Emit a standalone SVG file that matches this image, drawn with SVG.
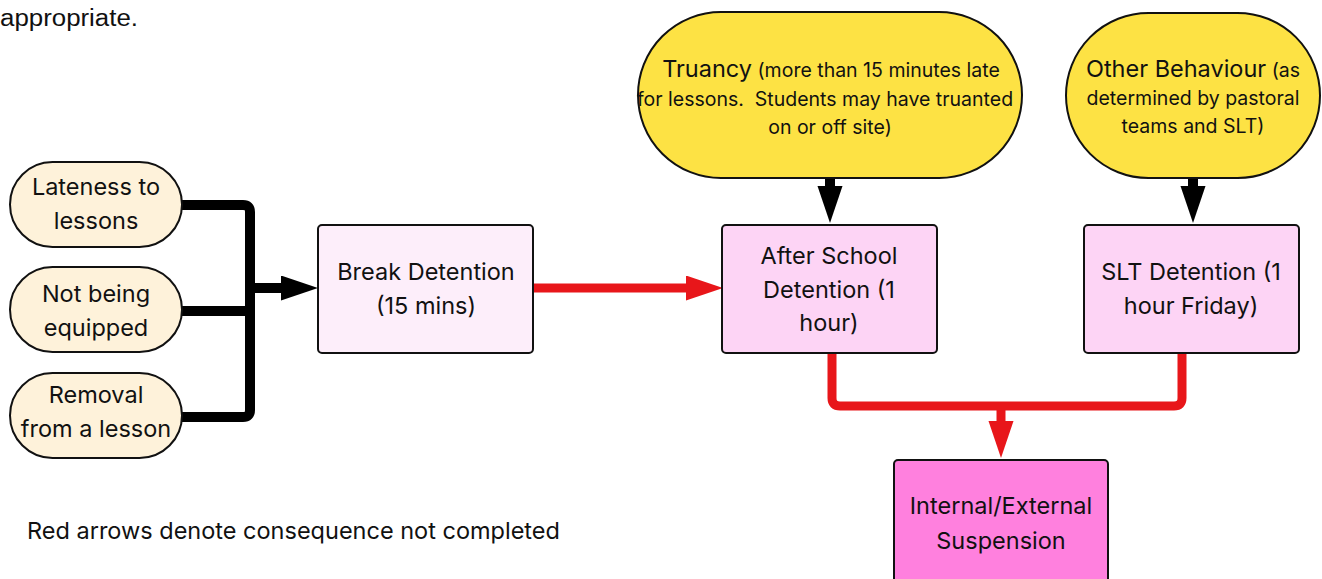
<svg xmlns="http://www.w3.org/2000/svg" width="1322" height="579" viewBox="0 0 1322 579">
<style>
text{font-family:Inter,"Noto Sans",sans-serif;fill:#111;text-anchor:middle}
.t{font-size:23.5px}
.s{font-size:19.5px}
.b{font-size:23.5px}
.stad{fill:#fef2da;stroke:#111;stroke-width:2}
.yel{fill:#fde244;stroke:#111;stroke-width:2}
.box{stroke:#111;stroke-width:2}
.blk{fill:none;stroke:#000;stroke-width:10;stroke-linejoin:round}
.red{fill:none;stroke:#e8161a;stroke-width:9;stroke-linejoin:round}
</style>
<defs>
<marker id="ab" markerUnits="userSpaceOnUse" markerWidth="38" markerHeight="26" refX="0" refY="12.5" orient="auto"><path d="M0,0 L37,12.5 L0,25 z" fill="#000"/></marker>
<marker id="ar" markerUnits="userSpaceOnUse" markerWidth="38" markerHeight="26" refX="0" refY="12.5" orient="auto"><path d="M0,0 L37,12.5 L0,25 z" fill="#e8161a"/></marker>
</defs>
<text x="0" y="26" style="font-family:'Liberation Sans',Arial,sans-serif;font-size:23px;text-anchor:start" textLength="138" lengthAdjust="spacingAndGlyphs">appropriate.</text>
<g id="connectors">
<path class="blk" d="M182,205 H243 Q250,205 250,212 V410 Q250,417 243,417 H182"/>
<path class="blk" d="M182,311 H250"/>
<path class="blk" d="M250,288 H281" marker-end="url(#ab)"/>
<path class="blk" d="M830,178 V186" marker-end="url(#ab)"/>
<path class="blk" d="M1193,178 V186" marker-end="url(#ab)"/>
<path class="red" d="M533,288 H686" marker-end="url(#ar)"/>
<path class="red" d="M832,353 V398 Q832,406 840,406 H1174 Q1182,406 1182,398 V353"/>
<path class="red" d="M1001,406 V421" marker-end="url(#ar)"/>
</g>
<g id="lateness"><rect class="stad" x="10" y="162" width="172" height="85" rx="42.5"/><text class="t" x="96" y="195">Lateness to</text><text class="t" x="96" y="229">lessons</text></g>
<g id="equipped"><rect class="stad" x="10" y="267" width="172" height="85" rx="42.5"/><text class="t" x="96" y="302">Not being</text><text class="t" x="96" y="336">equipped</text></g>
<g id="removal"><rect class="stad" x="10" y="373" width="172" height="85" rx="42.5"/><text class="t" x="96" y="403">Removal</text><text class="t" x="96" y="437">from a lesson</text></g>
<g id="break"><rect class="box" x="318" y="225" width="215" height="128" rx="4" fill="#fdeefa"/><text class="t" x="426" y="280">Break Detention</text><text class="t" x="426" y="314">(15 mins)</text></g>
<g id="afterschool"><rect class="box" x="722" y="225" width="215" height="128" rx="4" fill="#fdd4f5"/><text class="t" x="829" y="264">After School</text><text class="t" x="829" y="298">Detention (1</text><text class="t" x="829" y="331">hour)</text></g>
<g id="slt"><rect class="box" x="1084" y="225" width="215" height="128" rx="4" fill="#fdd4f5"/><text class="t" x="1191" y="280">SLT Detention (1</text><text class="t" x="1191" y="314">hour Friday)</text></g>
<g id="suspension"><rect class="box" x="894" y="460" width="214" height="140" rx="4" fill="#ff80de"/><text class="t" x="1001" y="514">Internal/External</text><text class="t" x="1001" y="549">Suspension</text></g>
<g id="truancy"><rect class="yel" x="638" y="12" width="384" height="166" rx="83"/><text x="831" y="77" xml:space="preserve"><tspan class="b">Truancy</tspan><tspan class="s"> (more than 15 minutes late</tspan></text><text class="s" x="825" y="106" xml:space="preserve">for lessons.  Students may have truanted</text><text class="s" x="830" y="134">on or off site)</text></g>
<g id="other"><rect class="yel" x="1066" y="13" width="254" height="165" rx="82.5"/><text x="1193" y="77"><tspan class="b">Other Behaviour</tspan><tspan class="s"> (as</tspan></text><text class="s" x="1193" y="105">determined by pastoral</text><text class="s" x="1193" y="133">teams and SLT)</text></g>
<text class="t" x="27" y="539" style="text-anchor:start">Red arrows denote consequence not completed</text>
</svg>
